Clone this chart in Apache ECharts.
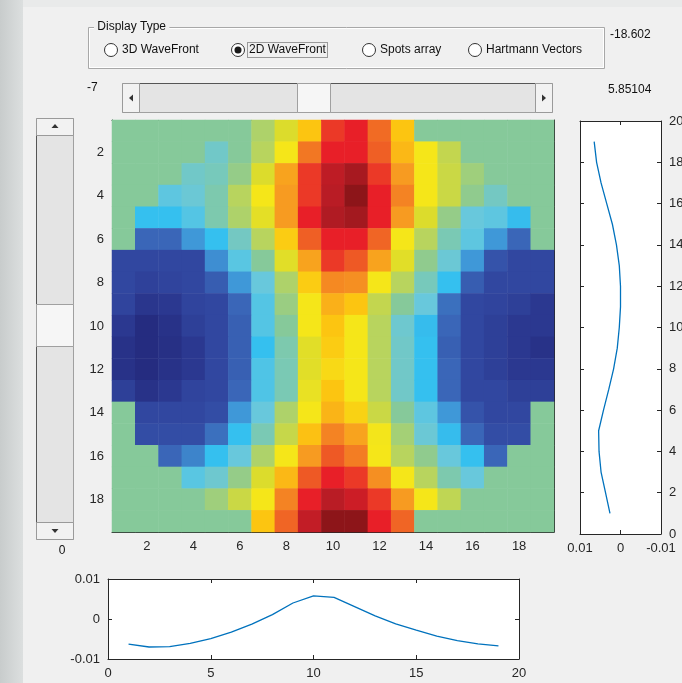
<!DOCTYPE html>
<html>
<head>
<meta charset="utf-8">
<script src="https://cdn.jsdelivr.net/npm/echarts@6/dist/echarts.min.js"></script>
<style>
  html, body { margin: 0; padding: 0; background: #f0f0f0; }
  #main { width: 682px; height: 683px; }
</style>
</head>
<body>
<div id="main"></div>
<script>
// wavefront levels, row 1 (top) .. row 19 (bottom), col 1..19; 7 = outside pupil
var wavefront = [
  [7,7,7,7,7,7,7.8,9,11,13.6,14,12.8,11,7,7,7,7,7,7],
  [7,7,7,7,6.3,7,8,10,12.6,14,14,13,11.3,10,8.3,7,7,7,7],
  [7,7,7,6.3,6.5,7.3,9,11.8,13.6,14.9,15.4,13.6,12,10,8.5,7.5,7,7,7],
  [7,7,5.8,6.1,6.7,8,10,12,13.6,15,16,14,12.4,10,8.5,7.2,6.4,7,7],
  [7,5,5,5.6,6.7,7.8,9.3,12,14,15.2,15.5,14,12,9,7.3,6,5.8,4.9,7],
  [7,3,3,4,5,6.4,8,10.8,13,14,14,12.9,10,8,6.6,5.8,4,3,7],
  [2,2,2,2,3.8,5.7,7,9.2,11.8,13.6,13.1,11.8,9.2,7.2,6.1,4,2.4,2,2],
  [2,1.6,1.8,2,2.7,4,6,7.8,10.8,12.3,12.2,10,8,6.5,5,2.7,2,2,2],
  [1.8,0.8,1,1.8,2,3,5.6,7.4,10,11.5,11,8.3,7,6,3.2,2,1.8,1.5,1],
  [1,0,0.5,1.5,2,2.8,5.6,7,10,11,10,8,6.2,4.9,3,2,1.5,1,1],
  [0.5,0,0.3,1,2,2.8,5,6.7,9.2,10.8,10,8,6.3,5,2.8,2,1.5,1,0.5],
  [0.5,0,0.5,1,2,2.8,5.5,6.6,9.2,10.4,10,8,6.3,5,3,2,1.5,1,1],
  [1.5,0.5,1,1.8,2,3,5.5,6.6,9.5,11,10,8,6.3,5,3,2,2,1.5,1.5],
  [7,2,2,2,2.2,4,6,7.8,10,11.4,10.6,8.5,7,5.8,4,2.4,2,2,7],
  [7,2.2,2.2,2.2,3.2,5,6.6,8.4,11.1,12.4,11.8,9.9,7.6,6.1,4.9,3,2.2,2.2,7],
  [7,7,3,3.6,5,6,7.8,10,12,13.1,12.5,10,8,7.2,6,5,3,7,7],
  [7,7,7,5.7,6.2,7.3,9,11.3,13.1,14,13.6,12.2,10,8,6.7,6,7,7,7],
  [7,7,7,7,7.5,8.5,10,12.4,14,15,14.6,13.6,12,10,8.2,7,7,7,7],
  [7,7,7,7,7,7,11,12.9,14.8,16,16,14,12.9,7,7,7,7,7,7]
];
var gridIndex = ['1','2','3','4','5','6','7','8','9','10','11','12','13','14','15','16','17','18','19'];

// side profile (vertical plot): y = 1..19
var sideY = [1,2,3,4,5,6,7,8,9,10,11,12,13,14,15,16,17,18,19];
var sideX = [0.0026,0.0037,0.0048,0.0053,0.0054,0.0042,0.0029,0.0017,0.0008,0.0003,0,0,0.0003,0.001,0.002,0.0034,0.0048,0.0059,0.0065];

// bottom profile: x = 1..19
var bottomX = [1,2,3,4,5,6,7,8,9,10,11,12,13,14,15,16,17,18,19];
var bottomY = [-0.0063,-0.007,-0.0069,-0.0061,-0.0049,-0.0033,-0.0013,0.0011,0.004,0.0058,0.0054,0.0031,0.0008,-0.0012,-0.0028,-0.0043,-0.0054,-0.0062,-0.0067];

var jet = ['#252c80','#2b3890','#3147a0','#3a66b8','#3f98d8','#35c0ef','#68c8dc','#86c99a',
           '#b8d45e','#dcdc2c','#f5e619','#fcc511','#f79b21','#ef5f25','#e81f28','#b91c25','#8d1519'];

var heatData = [];
for (var r = 0; r < wavefront.length; r++) {
  for (var c = 0; c < wavefront[r].length; c++) {
    heatData.push([c, r, wavefront[r][c]]);
  }
}

var ink = '#262626';
var tickFont = { color: ink, fontSize: 13, fontFamily: 'Liberation Sans, Arial, sans-serif' };
var guiFont = 'Liberation Sans, Arial, sans-serif';
var evenOnly = function (i) { return i % 2 === 1; };

function catAxis(grid, pos, showLabel, inverse) {
  return {
    gridIndex: grid, type: 'category', data: gridIndex, position: pos, inverse: !!inverse,
    axisLine: { show: true, lineStyle: { color: ink, width: 1 } },
    axisTick: { show: true, inside: true, length: 5, alignWithLabel: true, interval: evenOnly, lineStyle: { color: ink } },
    axisLabel: Object.assign({ show: showLabel, interval: evenOnly, margin: 8 }, tickFont),
    splitLine: { show: false }
  };
}
function valAxis(grid, pos, min, max, step, showLabel, inverse) {
  return {
    gridIndex: grid, type: 'value', position: pos, min: min, max: max, interval: step, inverse: !!inverse,
    axisLine: { show: true, onZero: false, lineStyle: { color: ink, width: 1 } },
    axisTick: { show: true, inside: true, length: 4, lineStyle: { color: ink } },
    axisLabel: Object.assign({ show: showLabel, margin: 8 }, tickFont),
    splitLine: { show: false }
  };
}

function radio(cx, cy, label, checked) {
  var els = [
    { type: 'circle', shape: { cx: cx, cy: cy, r: 6.5 }, style: { fill: '#fff', stroke: '#333', lineWidth: 1 } },
    { type: 'text', x: cx + 11, y: cy, style: { text: label, fill: '#111', font: '12px ' + guiFont, verticalAlign: 'middle' } }
  ];
  if (checked) {
    els.push({ type: 'circle', shape: { cx: cx, cy: cy, r: 3.5 }, style: { fill: '#1a1a1a' } });
  }
  return els;
}
function btn(x, y, w, h) {
  return { type: 'rect', shape: { x: x, y: y, width: w, height: h }, style: { fill: '#f2f2f2', stroke: '#9a9a9a', lineWidth: 1 } };
}
function tri(pts) {
  return { type: 'polygon', shape: { points: pts }, style: { fill: '#333' } };
}

var gui = [
  { type: 'rect', shape: { x: 0, y: 0, width: 682, height: 683 }, style: { fill: '#e9eaea' } },
  { type: 'rect', shape: { x: 0, y: 0, width: 23, height: 683 },
    style: { fill: new echarts.graphic.LinearGradient(0, 0, 1, 0, [{ offset: 0, color: '#c8cccc' }, { offset: 1, color: '#dcdfdf' }]) } },
  { type: 'rect', shape: { x: 23, y: 7, width: 659, height: 676 }, style: { fill: '#f0f0f0' } },
  // Display Type group
  { type: 'rect', shape: { x: 88.5, y: 27.5, width: 516, height: 41 }, style: { fill: 'none', stroke: '#a8a8a8', lineWidth: 1 } },
  { type: 'rect', shape: { x: 89.5, y: 28.5, width: 514, height: 39 }, style: { fill: 'none', stroke: '#ffffff', lineWidth: 1 } },
  { type: 'text', x: 94, y: 27, style: { text: ' Display Type ', fill: '#111', font: '12px ' + guiFont, verticalAlign: 'middle', backgroundColor: '#f0f0f0' } },
  { type: 'rect', shape: { x: 247.5, y: 42.5, width: 80, height: 15 }, style: { fill: 'none', stroke: '#444', lineWidth: 1, lineDash: [1, 1] } },
  { type: 'text', x: 610, y: 35, style: { text: '-18.602', fill: '#111', font: '12px ' + guiFont, verticalAlign: 'middle' } },
  { type: 'text', x: 608, y: 90, style: { text: '5.85104', fill: '#111', font: '12px ' + guiFont, verticalAlign: 'middle' } },
  { type: 'text', x: 87, y: 88, style: { text: '-7', fill: '#111', font: '12px ' + guiFont, verticalAlign: 'middle' } },
  // horizontal slider
  { type: 'rect', shape: { x: 122.5, y: 83.5, width: 430, height: 29 }, style: { fill: '#e4e4e4', stroke: '#a0a0a0', lineWidth: 1 } },
  { type: 'polyline', shape: { points: [[139.5, 112], [139.5, 83.5], [297, 83.5]] }, style: { stroke: '#555', lineWidth: 1, fill: 'none' } },
  { type: 'polyline', shape: { points: [[330.5, 112], [330.5, 83.5], [535, 83.5]] }, style: { stroke: '#555', lineWidth: 1, fill: 'none' } },
  btn(122.5, 83.5, 17, 29), btn(535.5, 83.5, 17, 29),
  { type: 'rect', shape: { x: 297.5, y: 83.5, width: 33, height: 29 }, style: { fill: '#f6f6f6', stroke: '#a0a0a0', lineWidth: 1 } },
  tri([[129, 98], [133, 94.5], [133, 101.5]]),
  tri([[546, 98], [542, 94.5], [542, 101.5]]),
  // vertical slider
  { type: 'rect', shape: { x: 36.5, y: 118.5, width: 37, height: 421 }, style: { fill: '#e4e4e4', stroke: '#a0a0a0', lineWidth: 1 } },
  { type: 'polyline', shape: { points: [[36.5, 304], [36.5, 135.5], [73, 135.5]] }, style: { stroke: '#555', lineWidth: 1, fill: 'none' } },
  { type: 'polyline', shape: { points: [[36.5, 523], [36.5, 346.5], [73, 346.5]] }, style: { stroke: '#555', lineWidth: 1, fill: 'none' } },
  btn(36.5, 118.5, 37, 17), btn(36.5, 522.5, 37, 17),
  { type: 'rect', shape: { x: 36.5, y: 304.5, width: 37, height: 42 }, style: { fill: '#f6f6f6', stroke: '#a0a0a0', lineWidth: 1 } },
  tri([[55, 124], [51.5, 128], [58.5, 128]]),
  tri([[55, 533], [51.5, 529], [58.5, 529]]),
  { type: 'text', x: 62, y: 551, style: { text: '0', fill: '#111', font: '12px ' + guiFont, verticalAlign: 'middle', align: 'center' } }
]
  .concat(radio(111, 50, '3D WaveFront', false))
  .concat(radio(238, 50, '2D WaveFront', true))
  .concat(radio(369, 50, 'Spots array', false))
  .concat(radio(475, 50, 'Hartmann Vectors', false));

var chart = echarts.init(document.getElementById('main'));
chart.setOption({
  animation: false,
  graphic: { elements: gui.map(function (e) { e.z = -10; e.silent = true; return e; }) },
  grid: [
    { left: 112, top: 120, width: 442, height: 412, outerBoundsMode: 'none' },
    { left: 580, top: 121, width: 81, height: 413, show: true, backgroundColor: '#fff', borderWidth: 0, outerBoundsMode: 'none' },
    { left: 108, top: 579, width: 411, height: 80, show: true, backgroundColor: '#fff', borderWidth: 0, outerBoundsMode: 'none' }
  ],
  visualMap: {
    type: 'continuous', show: false, seriesIndex: 0, dimension: 2,
    min: 0, max: 16, inRange: { color: jet }
  },
  xAxis: [
    catAxis(0, 'bottom', true, false),
    catAxis(0, 'top', false, false),
    valAxis(1, 'bottom', -0.01, 0.01, 0.01, true, true),
    valAxis(1, 'top', -0.01, 0.01, 0.01, false, true),
    valAxis(2, 'bottom', 0, 20, 5, true, false),
    valAxis(2, 'top', 0, 20, 5, false, false)
  ],
  yAxis: [
    catAxis(0, 'left', true, true),
    catAxis(0, 'right', false, true),
    valAxis(1, 'right', 0, 20, 2, true, false),
    valAxis(1, 'left', 0, 20, 2, false, false),
    valAxis(2, 'left', -0.01, 0.01, 0.01, true, false),
    valAxis(2, 'right', -0.01, 0.01, 0.01, false, false)
  ],
  series: [
    {
      type: 'heatmap', xAxisIndex: 0, yAxisIndex: 0, data: heatData,
      itemStyle: { borderWidth: 0 }, emphasis: { disabled: true }
    },
    {
      type: 'line', xAxisIndex: 2, yAxisIndex: 2, symbol: 'none',
      data: sideY.map(function (y, i) { return [sideX[i], y]; }),
      lineStyle: { color: '#0072BD', width: 1.3 }
    },
    {
      type: 'line', xAxisIndex: 4, yAxisIndex: 4, symbol: 'none',
      data: bottomX.map(function (x, i) { return [x, bottomY[i]]; }),
      lineStyle: { color: '#0072BD', width: 1.3 }
    }
  ]
});
</script>
</body>
</html>
